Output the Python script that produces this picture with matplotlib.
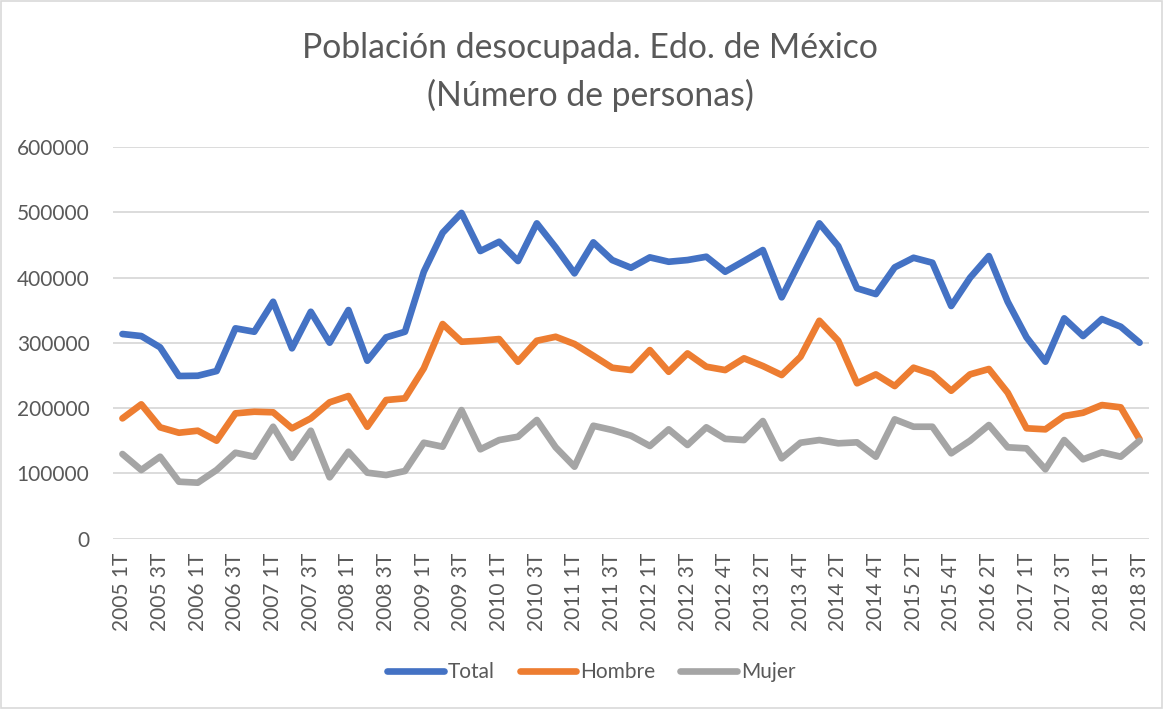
import matplotlib
matplotlib.use('Agg')
import matplotlib.pyplot as plt
from matplotlib.patches import Rectangle

# trimestres (etiquetas visibles cada 2 categorias)
trimestres = ['2005 1T', '2005 2T', '2005 3T', '2005 4T', '2006 1T', '2006 2T', '2006 3T', '2006 4T',
              '2007 1T', '2007 2T', '2007 3T', '2007 4T', '2008 1T', '2008 2T', '2008 3T', '2008 4T',
              '2009 1T', '2009 2T', '2009 3T', '2009 4T', '2010 1T', '2010 2T', '2010 3T', '2010 4T',
              '2011 1T', '2011 2T', '2011 3T', '2011 4T', '2012 1T', '2012 2T', '2012 3T', '2012 3T',
              '2012 4T', '2013 1T', '2013 2T', '2013 3T', '2013 4T', '2014 1T', '2014 2T', '2014 3T',
              '2014 4T', '2015 1T', '2015 2T', '2015 3T', '2015 4T', '2016 1T', '2016 2T', '2016 4T',
              '2017 1T', '2017 2T', '2017 3T', '2017 4T', '2018 1T', '2018 2T', '2018 3T']

total = [313500, 310400, 293100, 249200, 249600, 256800, 322200, 317000, 362900, 291600,
         347600, 300200, 350200, 272600, 308400, 317000, 408900, 468600, 499000, 440600,
         454800, 425300, 483000, 446200, 406400, 453900, 426800, 415000, 430900, 424200,
         426800, 431900, 408900, 425300, 442100, 369700, 426800, 483000, 448200, 383500,
         374700, 415600, 430300, 422700, 356400, 399700, 432900, 362900, 308400, 271100,
         337500, 310400, 336400, 324700, 300200]
hombre = [184300, 205800, 170600, 162300, 165400, 150100, 192000, 194500, 193600, 169100,
          184300, 208900, 218500, 171500, 212400, 215000, 261000, 328800, 301700, 303200,
          305800, 271100, 303200, 309300, 298200, 280200, 261900, 258300, 288900, 255700,
          283800, 263400, 258300, 276300, 264500, 250700, 278700, 333800, 303200, 238000,
          251700, 233800, 261900, 252200, 226600, 251700, 259900, 223600, 169100, 167500,
          187900, 192900, 204700, 201200, 152200]
mujer = [129700, 105200, 125600, 87300, 85800, 105200, 131700, 125600, 171500, 124000,
         165400, 94000, 133200, 101100, 97500, 103700, 147000, 140900, 197000, 136900,
         151100, 156200, 181800, 140000, 110300, 173000, 166500, 157700, 142000, 167500,
         143500, 170600, 152900, 151100, 180200, 123100, 147000, 151100, 146100, 147600,
         125600, 182800, 171500, 171500, 130800, 150100, 174100, 140000, 138400, 106300,
         151100, 121600, 132300, 125600, 150100]

plt.rcParams['font.family'] = ['Lato', 'DejaVu Sans']
gris = '#595959'

fig = plt.figure(figsize=(11.64, 7.09), dpi=100)
ax = fig.add_axes([0.0971, 0.2402, 0.89, 0.5525])

x = range(len(trimestres))
ax.plot(x, total, color='#4472C4', lw=4.8, label='Total', solid_capstyle='round', solid_joinstyle='round')
ax.plot(x, hombre, color='#ED7D31', lw=4.8, label='Hombre', solid_capstyle='round', solid_joinstyle='round')
ax.plot(x, mujer, color='#A5A5A5', lw=4.8, label='Mujer', solid_capstyle='round', solid_joinstyle='round')

ax.set_xlim(-0.5, len(trimestres) - 0.5)
ax.set_ylim(0, 600000)
ax.set_yticks(range(0, 600001, 100000))
ax.set_yticklabels([str(v) for v in range(0, 600001, 100000)])
ax.set_xticks(list(x)[::2])
ax.set_xticklabels(trimestres[::2], rotation=90)
ax.tick_params(axis='both', length=0, labelsize=15, labelcolor=gris)
ax.tick_params(axis='y', pad=17)
ax.tick_params(axis='x', pad=10)
ax.grid(axis='y', color='#D9D9D9', lw=1.3)
ax.set_axisbelow(True)
for s in ax.spines.values():
    s.set_visible(False)

fig.text(0.507, 0.933, 'Población desocupada. Edo. de México', ha='center', va='center',
         fontsize=24.3, color=gris)
fig.text(0.507, 0.866, '(Número de personas)', ha='center', va='center',
         fontsize=24.3, color=gris)

fig.legend(loc='center', bbox_to_anchor=(0.508, 0.052), ncol=3, frameon=False,
           fontsize=15, labelcolor=gris, handlelength=2.7, handletextpad=0.2,
           columnspacing=1.2)

fig.patches.append(Rectangle((0.001, 0.002), 0.997, 0.996, transform=fig.transFigure,
                             fill=False, edgecolor='#D9D9D9', lw=1.2))

plt.savefig('out.png', dpi=100)
